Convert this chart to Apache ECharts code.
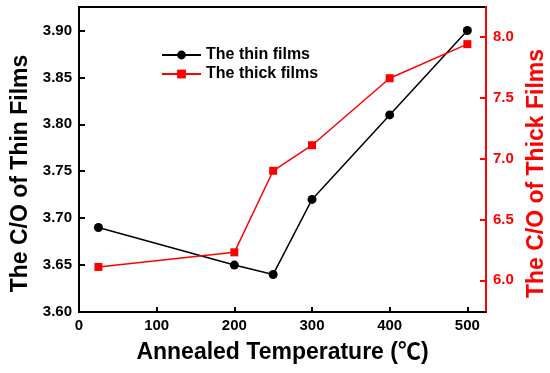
<!DOCTYPE html>
<html>
<head>
<meta charset="utf-8">
<script src="https://cdn.jsdelivr.net/npm/echarts@6/dist/echarts.min.js"></script>
<style>html,body{margin:0;padding:0;background:#fff}#c{width:550px;height:373px}</style>
</head>
<body>
<div id="c"></div>
<script>
var temperatures = [25, 200, 250, 300, 400, 500];
var thinFilms = [3.69, 3.65, 3.64, 3.72, 3.81, 3.90];
var thickFilms = [6.11, 6.23, 6.90, 7.11, 7.66, 7.94];
var seriesNames = ['The thin films', 'The thick films'];
var xName = 'Annealed Temperature (℃)';
var leftName = 'The C/O of Thin Films';
var rightName = 'The C/O of Thick Films';

function pairs(xs, ys) { return xs.map(function (x, i) { return [x, ys[i]]; }); }

var FONT = '"Liberation Sans", Arial, "Noto Sans CJK SC", sans-serif';
var chart = echarts.init(document.getElementById('c'));
chart.setOption({
  animation: false,
  grid: { left: 79, right: 64, top: 7, bottom: 61, show: true, borderColor: '#000', borderWidth: 2, backgroundColor: 'transparent', outerBoundsMode: 'none', containLabel: false },
  legend: {
    orient: 'vertical', left: 161, top: 47, padding: 0, itemWidth: 39, itemHeight: 11, itemGap: 3,
    textStyle: { fontFamily: FONT, fontWeight: 'bold', fontSize: 16, color: '#000' },
    data: seriesNames
  },
  xAxis: {
    type: 'value', min: 0, max: 524, interval: 100,
    name: xName, nameLocation: 'middle', nameGap: 29,
    nameTextStyle: { fontFamily: FONT, fontWeight: 'bold', fontSize: 23, color: '#000' },
    axisLine: { lineStyle: { color: '#000', width: 2 } },
    axisTick: { inside: true, length: 5, lineStyle: { width: 2, color: '#000' } },
    axisLabel: { margin: 6, showMaxLabel: false, fontFamily: FONT, fontWeight: 'bold', fontSize: 15, color: '#000' },
    splitLine: { show: false }
  },
  yAxis: [{
    type: 'value', min: 3.6, max: 3.925, interval: 0.05, position: 'left',
    name: leftName, nameLocation: 'middle', nameGap: 38,
    nameTextStyle: { fontFamily: FONT, fontWeight: 'bold', fontSize: 23, color: '#000', padding: [0, 28, 0, 0] },
    axisLine: { show: true, lineStyle: { color: '#000', width: 2 } },
    axisTick: { inside: true, length: 6, lineStyle: { width: 2, color: '#000' } },
    axisLabel: { margin: 7, showMaxLabel: false, formatter: function (v) { return v.toFixed(2); }, fontFamily: FONT, fontWeight: 'bold', fontSize: 15, color: '#000' },
    splitLine: { show: false }
  }, {
    type: 'value', min: 5.74, max: 8.245, splitNumber: 5, position: 'right',
    name: rightName, nameLocation: 'middle', nameGap: 37,
    nameTextStyle: { fontFamily: FONT, fontWeight: 'bold', fontSize: 23, color: '#ff0000', padding: [0, 28, 0, 0] },
    axisLine: { show: true, lineStyle: { color: '#ff0000', width: 2 } },
    axisTick: { inside: true, length: 6, lineStyle: { width: 2, color: '#ff0000' } },
    axisLabel: { margin: 7, showMinLabel: false, showMaxLabel: false, formatter: function (v) { return v.toFixed(1); }, fontFamily: FONT, fontWeight: 'bold', fontSize: 15, color: '#ff0000' },
    splitLine: { show: false }
  }],
  series: [{
    name: seriesNames[0], type: 'line', yAxisIndex: 0, data: pairs(temperatures, thinFilms),
    symbol: 'circle', symbolSize: 9, color: '#000',
    lineStyle: { color: '#000', width: 1.5 }, itemStyle: { color: '#000' }
  }, {
    name: seriesNames[1], type: 'line', yAxisIndex: 1, data: pairs(temperatures, thickFilms),
    symbol: 'rect', symbolSize: 8, color: '#ff0000',
    lineStyle: { color: '#ff0000', width: 1.5 }, itemStyle: { color: '#ff0000' }
  }]
});
</script>
</body>
</html>
